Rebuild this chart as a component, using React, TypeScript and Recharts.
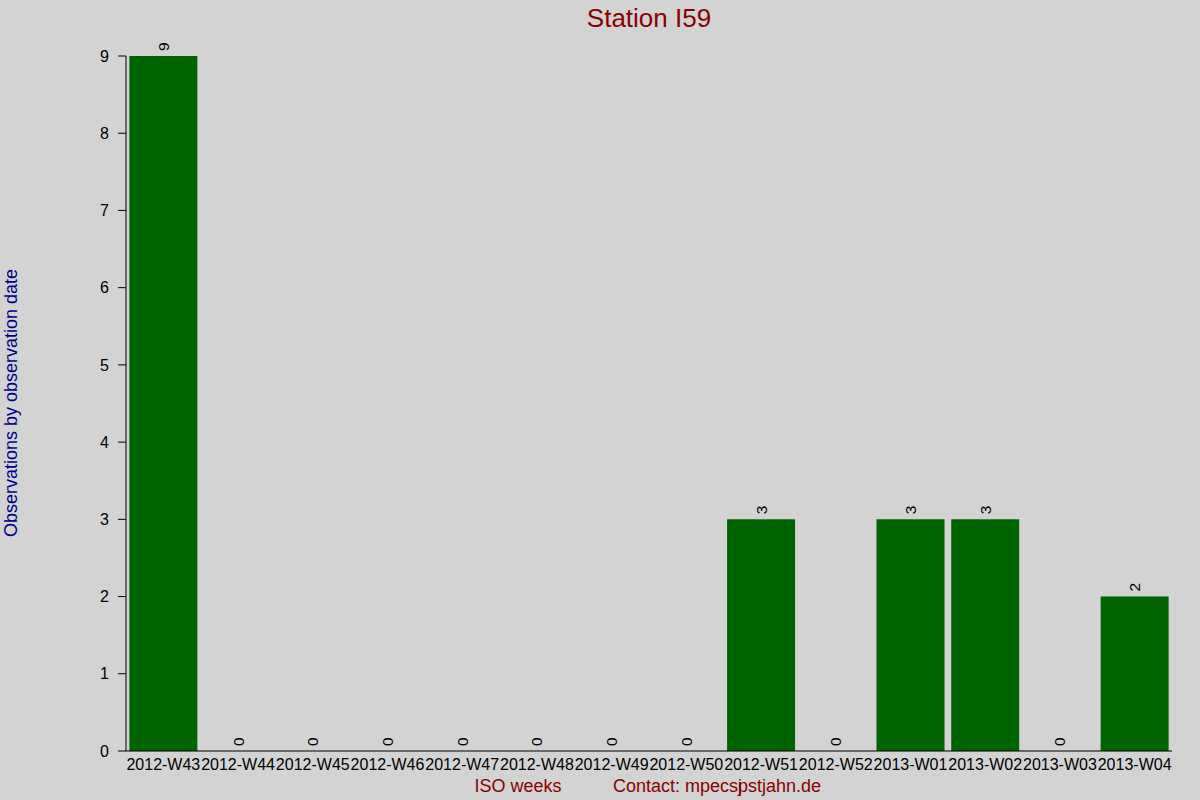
import React from 'react';
import { ComposedChart, Bar, Line, XAxis, YAxis, LabelList } from 'recharts';

const weeks = [
  '2012-W43', '2012-W44', '2012-W45', '2012-W46', '2012-W47', '2012-W48', '2012-W49',
  '2012-W50', '2012-W51', '2012-W52', '2013-W01', '2013-W02', '2013-W03', '2013-W04',
];
const counts = [9, 0, 0, 0, 0, 0, 0, 0, 3, 0, 3, 3, 0, 2];
const yTicks = [0, 1, 2, 3, 4, 5, 6, 7, 8, 9];

const data = weeks.map((week, i) => ({ week, count: counts[i] }));

const FONT = '"Liberation Sans", Arial, sans-serif';

const RotLabel = (props: any) => {
  const { x, y, value } = props;
  const cx = Number(x);
  const ty = Number(y) - 5;
  return (
    <text
      x={cx}
      y={ty}
      transform={`rotate(-90, ${cx}, ${ty})`}
      textAnchor="start"
      dominantBaseline="central"
      fontSize={15.5}
      fontFamily={FONT}
      fill="#000"
    >
      {value}
    </text>
  );
};

export default function App() {
  return (
    <div style={{ position: 'absolute', left: 0, top: 0, width: 1200, height: 800, background: '#d3d3d3', fontFamily: FONT }}>
      <ComposedChart
        width={1200}
        height={800}
        data={data}
        margin={{ top: 56, right: 28, left: 0, bottom: 0 }}
        barCategoryGap="4.5%"
      >
        <XAxis
          dataKey="week"
          interval={0}
          tickLine={false}
          axisLine={{ stroke: '#000' }}
          tick={{ fill: '#000', fontSize: 16, fontFamily: FONT }}
          height={49}
        />
        <YAxis
          domain={[0, 9]}
          ticks={yTicks}
          width={126}
          tickSize={8}
          tickMargin={9}
          axisLine={{ stroke: '#000' }}
          tickLine={{ stroke: '#000' }}
          tick={{ fill: '#000', fontSize: 16, fontFamily: FONT }}
        />
        <Bar dataKey="count" fill="#006400" isAnimationActive={false} />
        <Line
          dataKey="count"
          stroke="none"
          dot={false}
          activeDot={false}
          isAnimationActive={false}
        >
          <LabelList dataKey="count" content={RotLabel} />
        </Line>
      </ComposedChart>
      <svg width={1200} height={800} style={{ position: 'absolute', left: 0, top: 0, pointerEvents: 'none' }}>
        <text x={649} y={27} textAnchor="middle" fontSize={26} fontFamily={FONT} fill="#8B0000">
          Station I59
        </text>
        <text
          x={16.5}
          y={403}
          transform="rotate(-90, 16.5, 403)"
          textAnchor="middle"
          fontSize={18}
          fontFamily={FONT}
          fill="#00008B"
        >
          Observations by observation date
        </text>
        <text x={518} y={792} textAnchor="middle" fontSize={18} fontFamily={FONT} fill="#8B0000">
          ISO weeks
        </text>
        <text x={613} y={792} textAnchor="start" fontSize={18} fontFamily={FONT} fill="#8B0000">
          Contact: mpecs<tspan>j</tspan><tspan dx={-4}>pstjahn.de</tspan>
        </text>
      </svg>
    </div>
  );
}
